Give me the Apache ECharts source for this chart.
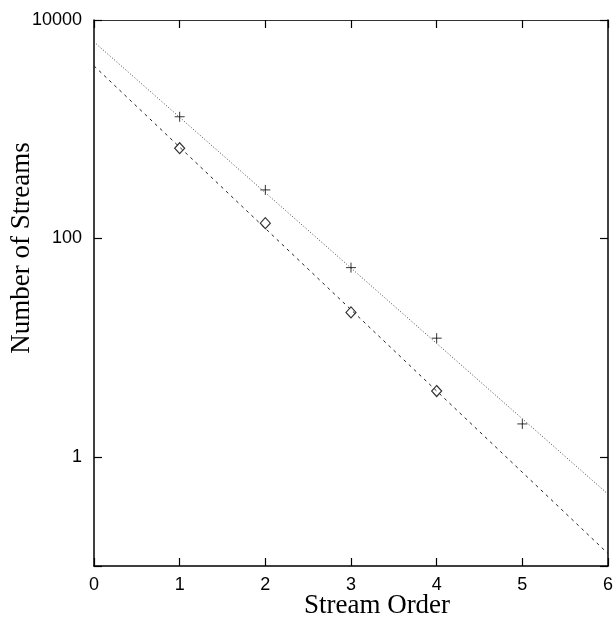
<!DOCTYPE html>
<html>
	<head>
		<meta charset="utf-8">
		<title>Stream Order</title>
		<style>
			html, body {
				width: 100%;
				height: 100%;
				margin: 0;
				padding: 0;
				background: #fff;
			}
			#main {
				width: 616px;
				height: 621px;
			}
		</style>
	</head>
	<body>
		<div id="main"></div>
		<script src="https://cdn.jsdelivr.net/npm/echarts@6/dist/echarts.min.js"></script>
		<script>
			// stream order vs number of streams
			var orders = [1, 2, 3, 4, 5];
			var crossVals = [1300, 278, 54, 12.2, 2.0];
			var diamondOrders = [1, 2, 3, 4];
			var diamondVals = [670, 138, 21, 4.0];
			// fitted lines, end values at order 0 and 6
			var fitX = [0, 6];
			var dottedFit = [6300, 0.455];
			var dashedFit = [3800, 0.13];
			var xTicks = [0, 1, 2, 3, 4, 5, 6];
			var yLabels = ['1', '100', '10000'];

			function pairs(xs, ys) {
				var out = [];
				for (var i = 0; i < xs.length; i++) {
					out.push([xs[i], ys[i]]);
				}
				return out;
			}

			var sans = 'Liberation Sans';
			var serif = 'Liberation Serif';

			function yFmt(v) {
				var s = String(Math.round(v));
				return yLabels.indexOf(s) != -1 && v >= 1 ? s : '';
			}

			var tick = {show: true, inside: true, length: 8, lineStyle: {color: '#000', width: 1.2}};

			var chart = echarts.init(document.getElementById('main'), null, {renderer: 'canvas'});
			chart.setOption({
				animation: false,
				backgroundColor: '#fff',
				grid: {
					left: 94,
					top: 20,
					right: 6,
					bottom: 55
				},
				xAxis: [{
					type: 'value',
					min: xTicks[0],
					max: xTicks[xTicks.length - 1],
					interval: 1,
					axisLine: {onZero: false, lineStyle: {color: '#000', width: 1.5}},
					axisTick: tick,
					axisLabel: {color: '#000', fontFamily: sans, fontSize: 18, margin: 10},
					splitLine: {show: false}
				}, {
					type: 'value',
					position: 'top',
					min: xTicks[0],
					max: xTicks[xTicks.length - 1],
					interval: 1,
					axisLine: {onZero: false, lineStyle: {color: '#333', width: 1.2}},
					axisTick: tick,
					axisLabel: {show: false},
					splitLine: {show: false}
				}],
				yAxis: [{
					type: 'log',
					logBase: 100,
					position: 'left',
					min: 0.1,
					max: 10000,
					splitNumber: 2,
					axisLine: {show: true, onZero: false, lineStyle: {color: '#000', width: 1.5}},
					axisTick: tick,
					axisLabel: {color: '#000', fontFamily: sans, fontSize: 18, margin: 12, formatter: yFmt},
					splitLine: {show: false}
				}, {
					type: 'log',
					logBase: 100,
					position: 'right',
					min: 0.1,
					max: 10000,
					splitNumber: 2,
					axisLine: {show: true, onZero: false, lineStyle: {color: '#000', width: 1.5}},
					axisTick: tick,
					axisLabel: {show: false},
					splitLine: {show: false}
				}],
				graphic: [{
					type: 'text',
					x: 22,
					y: 248,
					rotation: Math.PI / 2,
					style: {
						text: 'Number of Streams',
						fontFamily: serif,
						fontSize: 27,
						fill: '#000',
						align: 'center',
						verticalAlign: 'middle'
					}
				}, {
					type: 'text',
					x: 377,
					y: 606,
					style: {
						text: 'Stream Order',
						fontFamily: serif,
						fontSize: 27,
						fill: '#000',
						align: 'center',
						verticalAlign: 'middle'
					}
				}],
				series: [{
					type: 'line',
					data: pairs(fitX, dottedFit),
					showSymbol: false,
					silent: true,
					lineStyle: {color: '#444', width: 1, type: [1, 2]}
				}, {
					type: 'line',
					data: pairs(fitX, dashedFit),
					showSymbol: false,
					silent: true,
					lineStyle: {color: '#222', width: 1, type: [3, 4]}
				}, {
					type: 'scatter',
					data: pairs(orders, crossVals),
					symbol: 'path://M0,5L10,5M5,0L5,10',
					symbolSize: 10,
					itemStyle: {color: 'none', borderColor: '#000', borderWidth: 1}
				}, {
					type: 'scatter',
					data: pairs(diamondOrders, diamondVals),
					symbol: 'diamond',
					symbolSize: [10, 11],
					itemStyle: {color: '#fff', borderColor: '#000', borderWidth: 1.2}
				}]
			});
		</script>
	</body>
</html>
